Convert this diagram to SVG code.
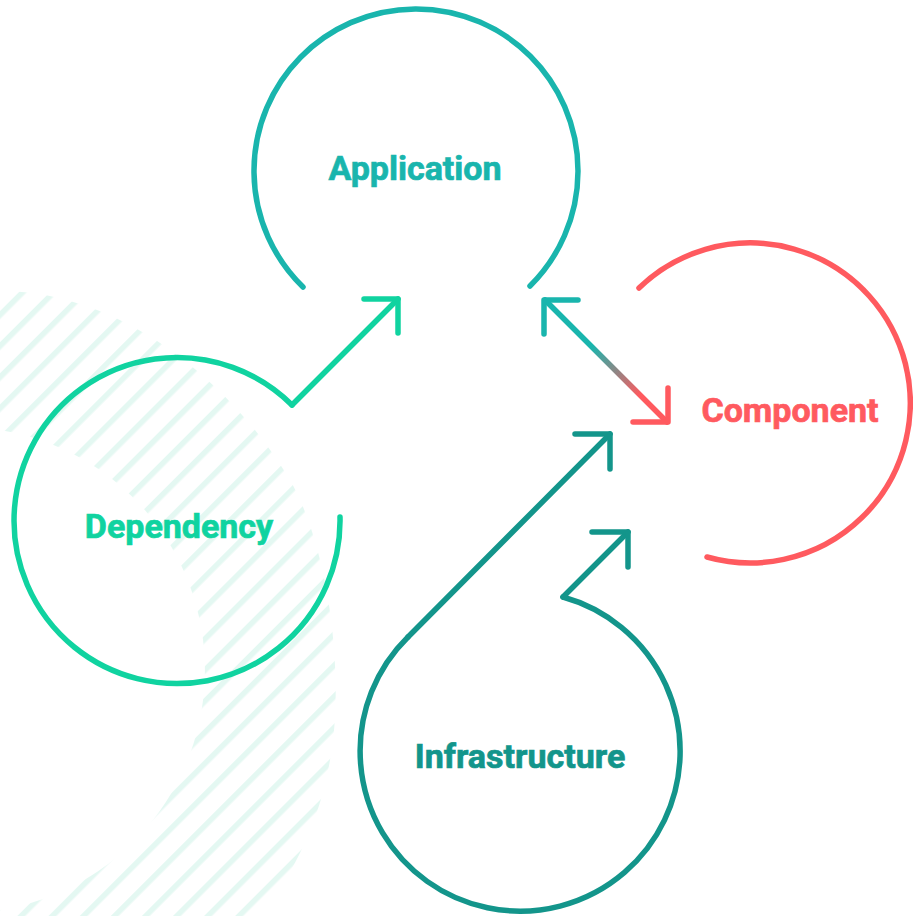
<svg xmlns="http://www.w3.org/2000/svg" width="913" height="916" viewBox="0 0 913 916">
  <defs>
    <pattern id="hatch" width="22" height="22" patternUnits="userSpaceOnUse" patternTransform="rotate(-45)">
      <rect x="0" y="0" width="22" height="5.5" fill="#e4f8f2"/>
    </pattern>
    <linearGradient id="grad" gradientUnits="userSpaceOnUse" x1="545" y1="300" x2="667" y2="422">
      <stop offset="0" stop-color="#19b5ad"/>
      <stop offset="0.38" stop-color="#19b5ad"/>
      <stop offset="0.78" stop-color="#ff5a5f"/>
      <stop offset="1" stop-color="#ff5a5f"/>
    </linearGradient>
  </defs>
  <style>
    .ln { fill: none; stroke-width: 5.5; stroke-linecap: round; stroke-linejoin: round; }
    .lbl { font-family: Roboto, "Liberation Sans", sans-serif; font-weight: 700; font-size: 34px; text-anchor: middle; stroke-width: 0.7; }
    .app { stroke: #19b5ad; }
    .dep { stroke: #10d3a0; }
    .cmp { stroke: #ff5a5f; }
    .inf { stroke: #13958b; }
  </style>
  <rect width="913" height="916" fill="#ffffff"/>
  <path id="hatch-bg" fill="url(#hatch)" fill-rule="evenodd" d="M 0 291 C 120 291 230 380 290 480 C 330 550 345 680 330 760 C 320 820 295 870 262 916 L 0 916 Z M 0 430 A 243 243 0 0 1 0 910 Z"/>

  <g id="connectors">
    <path class="ln dep" d="M 292 405 L 398 299"/>
    <path class="ln dep" d="M 364 299 H 398 V 333"/>
    <path class="ln" stroke="url(#grad)" d="M 545 300 L 667 422"/>
    <path class="ln app" d="M 578 300 H 544 V 334"/>
    <path class="ln cmp" d="M 633 422 H 668 V 388"/>
    <path class="ln inf" d="M 628 532 L 563 597"/>
    <path class="ln inf" d="M 592 532 H 628 V 567"/>
    <path class="ln inf" d="M 408 637 L 610 434"/>
    <path class="ln inf" d="M 575 434 H 610 V 469"/>
  </g>

  <g id="application">
    <path class="ln app" d="M 303 287 A 162 162 0 1 1 530 286"/>
    <text class="lbl app" x="415" y="180" fill="#19b5ad">Application</text>
  </g>
  <g id="component">
    <path class="ln cmp" d="M 639 288 A 160 160 0 1 1 707 557"/>
    <text class="lbl cmp" x="790" y="422" fill="#ff5a5f">Component</text>
  </g>
  <g id="dependency">
    <path class="ln dep" d="M 340 517 A 163 163 0 1 1 292 405"/>
    <text class="lbl dep" x="179" y="538" fill="#10d3a0">Dependency</text>
  </g>
  <g id="infrastructure">
    <path class="ln inf" d="M 563 597 A 160 160 0 1 1 408 637"/>
    <text class="lbl inf" x="520" y="768" fill="#13958b">Infrastructure</text>
  </g>
</svg>
